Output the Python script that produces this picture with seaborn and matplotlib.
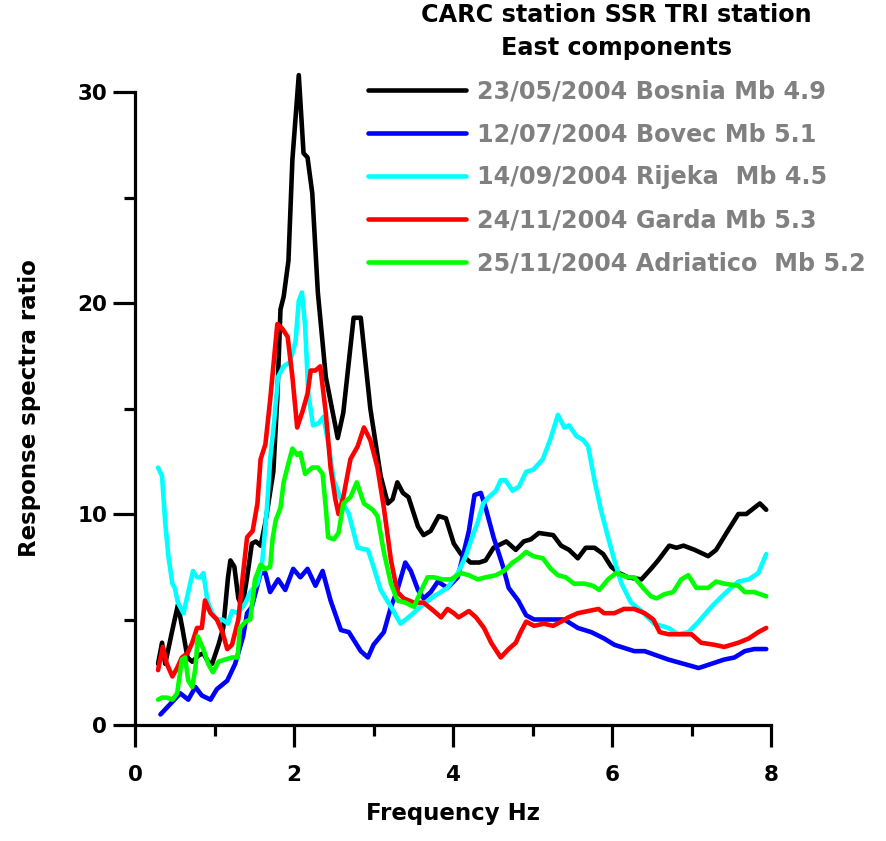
import numpy as np
import pandas as pd
import matplotlib
matplotlib.use('Agg')
import matplotlib.pyplot as plt
import seaborn as sns

# Bosnia 23/05/2004
f_bosnia = [0.29, 0.34, 0.38, 0.47, 0.54, 0.60, 0.66, 0.72, 0.80, 0.86, 0.92, 0.97, 1.05, 1.11, 1.17, 1.20,
            1.25, 1.30, 1.35, 1.41, 1.47, 1.52, 1.58, 1.64, 1.74, 1.79, 1.83, 1.87, 1.93, 1.98, 2.06, 2.12,
            2.17, 2.23, 2.30, 2.40, 2.55, 2.62, 2.75, 2.84, 2.96, 3.09, 3.18, 3.24, 3.30, 3.37, 3.44, 3.56,
            3.63, 3.72, 3.82, 3.91, 4.01, 4.10, 4.22, 4.33, 4.41, 4.51, 4.67, 4.79, 4.89, 4.98, 5.08, 5.26,
            5.36, 5.46, 5.57, 5.67, 5.78, 5.89, 5.99, 6.09, 6.20, 6.37, 6.49, 6.58, 6.72, 6.81, 6.90, 7.04,
            7.21, 7.31, 7.44, 7.59, 7.69, 7.86, 7.94]
r_bosnia = [2.9, 3.9, 2.9, 4.5, 5.7, 4.5, 3.2, 3.0, 3.3, 3.4, 3.0, 2.9, 3.8, 4.6, 7.0, 7.8,
            7.5, 6.0, 5.6, 7.0, 8.6, 8.7, 8.5, 9.6, 12.0, 15.5, 19.7, 20.3, 22.0, 26.8, 30.8, 27.1,
            26.9, 25.2, 20.5, 16.5, 13.6, 14.8, 19.3, 19.3, 15.0, 11.8, 10.5, 10.7, 11.5, 11.0, 10.8, 9.4,
            9.0, 9.2, 9.9, 9.8, 8.6, 8.1, 7.7, 7.7, 7.8, 8.4, 8.7, 8.3, 8.7, 8.8, 9.1, 9.0,
            8.5, 8.3, 7.9, 8.4, 8.4, 8.1, 7.5, 7.2, 7.0, 6.9, 7.4, 7.8, 8.5, 8.4, 8.5, 8.3,
            8.0, 8.3, 9.1, 10.0, 10.0, 10.5, 10.2]

# Bovec 12/07/2004
f_bovec = [0.32, 0.42, 0.57, 0.67, 0.76, 0.84, 0.95, 1.03, 1.16, 1.26, 1.36, 1.41, 1.47, 1.58, 1.64, 1.70,
           1.80, 1.89, 1.99, 2.08, 2.17, 2.27, 2.36, 2.46, 2.59, 2.69, 2.84, 2.93, 3.00, 3.13, 3.22, 3.30,
           3.40, 3.47, 3.56, 3.63, 3.72, 3.81, 3.93, 4.06, 4.20, 4.27, 4.35, 4.41, 4.51, 4.63, 4.70, 4.82,
           4.92, 5.02, 5.23, 5.40, 5.57, 5.74, 5.90, 6.03, 6.28, 6.41, 6.56, 6.71, 6.90, 7.09, 7.25, 7.41,
           7.54, 7.67, 7.79, 7.94]
r_bovec = [0.5, 0.9, 1.5, 1.2, 1.8, 1.4, 1.2, 1.7, 2.1, 2.9, 4.2, 5.3, 5.6, 7.2, 7.2, 6.3,
           6.9, 6.4, 7.4, 7.0, 7.4, 6.6, 7.3, 5.9, 4.5, 4.4, 3.5, 3.2, 3.8, 4.4, 5.6, 6.4,
           7.7, 7.3, 6.4, 6.0, 6.3, 6.8, 6.5, 7.0, 9.2, 10.9, 11.0, 10.3, 8.9, 7.5, 6.5, 5.9,
           5.2, 5.0, 5.0, 5.0, 4.6, 4.4, 4.1, 3.8, 3.5, 3.5, 3.3, 3.1, 2.9, 2.7, 2.9, 3.1,
           3.2, 3.5, 3.6, 3.6]

# Rijeka 14/09/2004
f_rijeka = [0.29, 0.34, 0.38, 0.42, 0.47, 0.50, 0.54, 0.61, 0.67, 0.73, 0.78, 0.82, 0.86, 0.91, 0.97, 1.03,
            1.10, 1.17, 1.22, 1.30, 1.39, 1.45, 1.54, 1.60, 1.66, 1.70, 1.74, 1.80, 1.87, 1.95, 2.02, 2.06,
            2.10, 2.14, 2.18, 2.24, 2.31, 2.37, 2.43, 2.50, 2.59, 2.69, 2.80, 2.93, 3.00, 3.09, 3.22, 3.34,
            3.47, 3.59, 3.76, 3.93, 4.06, 4.16, 4.26, 4.31, 4.38, 4.45, 4.54, 4.60, 4.66, 4.75, 4.83, 4.92,
            5.01, 5.13, 5.23, 5.32, 5.40, 5.46, 5.55, 5.64, 5.70, 5.78, 5.86, 5.95, 6.03, 6.12, 6.24, 6.37,
            6.53, 6.71, 6.83, 6.96, 7.09, 7.25, 7.41, 7.59, 7.72, 7.84, 7.94]
r_rijeka = [12.2, 11.8, 9.6, 8.0, 6.7, 6.5, 5.8, 5.3, 6.3, 7.3, 7.0, 7.0, 7.2, 5.9, 5.3, 5.0,
            5.0, 4.8, 5.4, 5.3, 5.8, 6.3, 6.7, 7.7, 10.3, 12.6, 14.0, 16.5, 17.0, 17.2, 18.2, 20.1,
            20.5, 18.9, 15.7, 14.2, 14.3, 14.6, 13.4, 11.6, 10.7, 10.0, 8.4, 8.3, 7.5, 6.4, 5.6, 4.8,
            5.2, 5.6, 6.1, 6.5, 7.2, 8.0, 9.1, 9.6, 10.5, 10.8, 11.1, 11.6, 11.6, 11.1, 11.3, 12.0,
            12.1, 12.6, 13.6, 14.7, 14.1, 14.2, 13.7, 13.5, 13.2, 11.6, 10.2, 8.9, 7.8, 6.7, 5.8, 5.4,
            4.8, 4.6, 4.3, 4.4, 4.9, 5.6, 6.2, 6.8, 6.9, 7.2, 8.1]

# Garda 24/11/2004
f_garda = [0.29, 0.35, 0.40, 0.47, 0.53, 0.59, 0.66, 0.72, 0.78, 0.84, 0.88, 0.95, 1.03, 1.10, 1.16, 1.22,
           1.30, 1.36, 1.41, 1.48, 1.54, 1.58, 1.64, 1.70, 1.79, 1.85, 1.92, 1.98, 2.04, 2.11, 2.17, 2.21,
           2.27, 2.33, 2.40, 2.46, 2.52, 2.56, 2.62, 2.71, 2.80, 2.88, 2.96, 3.05, 3.13, 3.22, 3.30, 3.38,
           3.51, 3.63, 3.76, 3.85, 3.93, 4.01, 4.07, 4.20, 4.29, 4.39, 4.48, 4.60, 4.70, 4.79, 4.85, 4.92,
           5.02, 5.14, 5.26, 5.36, 5.45, 5.57, 5.70, 5.83, 5.90, 6.03, 6.15, 6.28, 6.41, 6.52, 6.60, 6.71,
           6.87, 7.00, 7.12, 7.29, 7.41, 7.59, 7.72, 7.84, 7.94]
r_garda = [2.6, 3.7, 2.9, 2.3, 2.7, 3.2, 3.4, 3.9, 4.6, 4.6, 5.9, 5.3, 5.0, 4.4, 3.6, 3.8,
           5.0, 7.2, 8.9, 9.2, 10.5, 12.6, 13.3, 15.4, 19.0, 18.8, 18.4, 16.5, 14.1, 14.9, 15.7, 16.8,
           16.8, 17.0, 14.8, 12.2, 10.7, 10.0, 10.8, 12.6, 13.2, 14.1, 13.5, 12.2, 10.3, 7.8, 6.3, 6.0,
           5.8, 5.8, 5.4, 5.1, 5.5, 5.3, 5.1, 5.4, 5.1, 4.6, 3.9, 3.2, 3.6, 3.9, 4.4, 4.9,
           4.7, 4.8, 4.7, 4.9, 5.1, 5.3, 5.4, 5.5, 5.3, 5.3, 5.5, 5.5, 5.3, 5.0, 4.4, 4.3,
           4.3, 4.3, 3.9, 3.8, 3.7, 3.9, 4.1, 4.4, 4.6]

# Adriatico 25/11/2004
f_adriatico = [0.29, 0.34, 0.40, 0.47, 0.53, 0.59, 0.63, 0.67, 0.72, 0.76, 0.79, 0.86, 0.92, 0.98, 1.05, 1.13,
               1.22, 1.29, 1.32, 1.39, 1.45, 1.51, 1.58, 1.64, 1.70, 1.73, 1.77, 1.83, 1.87, 1.93, 1.98, 2.04,
               2.08, 2.14, 2.23, 2.30, 2.36, 2.40, 2.43, 2.50, 2.56, 2.62, 2.71, 2.79, 2.88, 2.99, 3.05, 3.13,
               3.22, 3.30, 3.40, 3.51, 3.59, 3.68, 3.76, 3.87, 3.97, 4.10, 4.20, 4.31, 4.41, 4.54, 4.64, 4.75,
               4.83, 4.92, 5.01, 5.13, 5.23, 5.32, 5.42, 5.52, 5.65, 5.76, 5.84, 5.95, 6.05, 6.20, 6.28, 6.39,
               6.49, 6.56, 6.66, 6.77, 6.87, 6.96, 7.06, 7.21, 7.31, 7.41, 7.59, 7.67, 7.79, 7.94]
r_adriatico = [1.2, 1.3, 1.3, 1.2, 1.5, 3.1, 3.2, 2.1, 1.8, 2.7, 4.2, 3.6, 2.9, 2.5, 3.0, 3.1,
               3.2, 3.2, 4.6, 4.9, 5.0, 6.9, 7.6, 7.4, 7.5, 8.8, 9.7, 10.3, 11.5, 12.4, 13.1, 12.8,
               12.9, 11.9, 12.2, 12.2, 11.9, 10.3, 8.9, 8.8, 9.1, 10.5, 10.8, 11.5, 10.5, 10.2, 9.9, 8.2,
               6.7, 5.9, 5.8, 5.6, 6.3, 7.0, 7.0, 6.9, 6.9, 7.2, 7.1, 6.9, 7.0, 7.1, 7.3, 7.7,
               7.9, 8.2, 8.0, 7.9, 7.4, 7.1, 7.0, 6.7, 6.7, 6.6, 6.4, 6.9, 7.2, 7.0, 7.0, 6.5,
               6.1, 6.0, 6.2, 6.3, 6.9, 7.1, 6.5, 6.5, 6.8, 6.7, 6.6, 6.3, 6.3, 6.1]

labels = ['23/05/2004 Bosnia Mb 4.9',
          '12/07/2004 Bovec Mb 5.1',
          '14/09/2004 Rijeka  Mb 4.5',
          '24/11/2004 Garda Mb 5.3',
          '25/11/2004 Adriatico  Mb 5.2']
colors = ['#000000', '#0000ff', '#00ffff', '#ff0000', '#00ff00']

series = [(f_bosnia, r_bosnia), (f_bovec, r_bovec), (f_rijeka, r_rijeka),
          (f_garda, r_garda), (f_adriatico, r_adriatico)]

sns.set_style('ticks')
plt.rcParams['font.family'] = ['DejaVu Sans']
plt.rcParams['font.weight'] = 'bold'
plt.rcParams['text.color'] = 'black'
plt.rcParams['axes.labelcolor'] = 'black'
plt.rcParams['xtick.color'] = 'black'
plt.rcParams['ytick.color'] = 'black'
plt.rcParams['axes.edgecolor'] = 'black'

fig = plt.figure(figsize=(8.86, 8.41), dpi=100)
ax = fig.add_axes([135 / 886, 1 - 725 / 841, 636 / 886, 633 / 841])

for (f, r), lab, c in zip(series, labels, colors):
    df = pd.DataFrame({'freq': f, 'ratio': r})
    sns.lineplot(data=df, x='freq', y='ratio', color=c, lw=3.3, label=lab,
                 ax=ax, sort=False, clip_on=False)

ax.set_xlim(0, 8)
ax.set_ylim(0, 30)
ax.set_xticks([0, 2, 4, 6, 8])
ax.set_xticks([1, 3, 5, 7], minor=True)
ax.set_yticks([0, 10, 20, 30])
ax.set_yticks([5, 15, 25], minor=True)
sns.despine(ax=ax)
for s in ['left', 'bottom']:
    ax.spines[s].set_linewidth(2.3)
    ax.spines[s].set_color('black')
ax.tick_params(which='major', length=16, width=2.3, labelsize=15.5, direction='out', colors='black')
ax.tick_params(which='minor', length=8, width=2.3, direction='out', colors='black')
ax.tick_params(axis='x', which='major', pad=13)
ax.tick_params(axis='y', which='major', pad=4)
for t in ax.get_xticklabels() + ax.get_yticklabels():
    t.set_fontweight('bold')

ax.set_xlabel('Frequency Hz', fontsize=16.5, fontweight='bold', labelpad=12, color='black')
ax.set_ylabel('Response spectra ratio', fontsize=16.5, fontweight='bold', labelpad=26, color='black')

leg = ax.legend(loc='upper left', bbox_to_anchor=(368 / 886, 0.996),
                bbox_transform=fig.transFigure, frameon=False,
                title='CARC station SSR TRI station\nEast components',
                fontsize=17.2, title_fontsize=17.2, handlelength=4.1, handletextpad=0.45,
                labelspacing=0.8, borderpad=0, borderaxespad=0)
leg.get_title().set_fontweight('bold')
leg.get_title().set_multialignment('center')
leg.get_title().set_linespacing(1.45)
leg.get_title().set_color('black')
for t in leg.get_texts():
    t.set_color('#808080')
    t.set_fontweight('bold')
for h in leg.get_lines():
    h.set_linewidth(3.3)

fig.savefig('out.png', dpi=100)
